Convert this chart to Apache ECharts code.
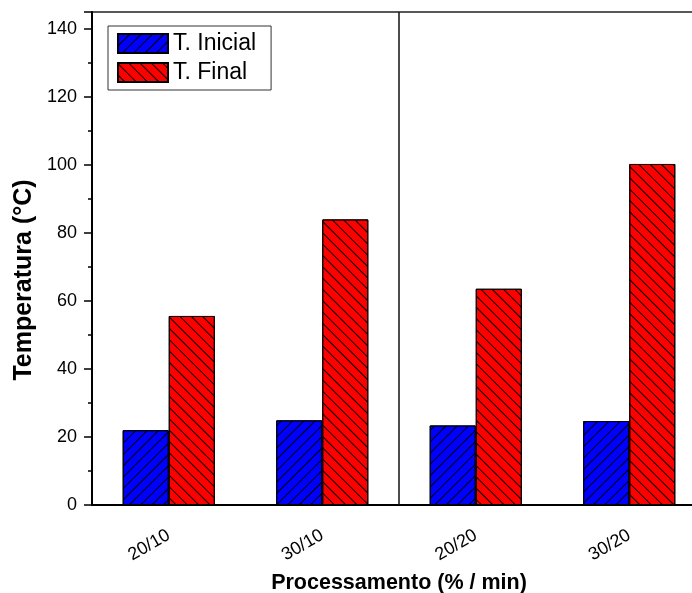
<!DOCTYPE html>
<html>
<head>
<meta charset="utf-8">
<script src="https://cdn.jsdelivr.net/npm/echarts@6/dist/echarts.min.js"></script>
<style>
  html, body { margin: 0; padding: 0; background: #fff; overflow: hidden; }
  /* the plot frame runs past the right edge of the window */
  #chart { width: 706px; height: 593px; }
</style>
</head>
<body>
<div id="chart"></div>
<script>
// Processing conditions (% / min) and measured temperatures (°C)
const categories = ['20/10', '30/10', '20/20', '30/20'];
const tInicial = [22.0, 24.9, 23.4, 24.7];
const tFinal = [55.6, 84.0, 63.6, 100.3];
const seriesNames = ['T. Inicial', 'T. Final'];
const yMin = 0;
const yMax = 145;
const yStep = 20;
const dividerAt = 2; // band boundary separating the "/10" and "/20" groups

const FONT = '"Liberation Sans", Arial, Helvetica, sans-serif';

function hatch(rotation) {
  return {
    symbol: 'rect',
    symbolSize: 1,
    color: '#000',
    dashArrayX: [1, 0],
    dashArrayY: [1, 6.5],
    rotation: rotation
  };
}

const chart = echarts.init(document.getElementById('chart'), null, { renderer: 'canvas' });

chart.setOption({
  animation: false,
  backgroundColor: '#fff',
  textStyle: { fontFamily: FONT },
  grid: {
    left: 92, right: 0, top: 12, bottom: 88,
    outerBoundsMode: 'none',
    containLabel: false,
    show: true, borderColor: '#222', borderWidth: 1.5
  },
  legend: {
    left: 108, top: 26,
    orient: 'vertical',
    data: seriesNames,
    icon: 'rect',
    itemWidth: 50, itemHeight: 19, itemGap: 6,
    padding: [6, 15, 6, 9],
    borderColor: '#333', borderWidth: 1,
    textStyle: { fontFamily: FONT, fontSize: 23, color: '#000' }
  },
  xAxis: [
    {
      type: 'category',
      data: categories,
      position: 'bottom',
      axisLine: { lineStyle: { color: '#000', width: 2 } },
      axisTick: { alignWithLabel: true, length: 8, lineStyle: { color: '#000', width: 1.5 } },
      axisLabel: {
        rotate: 30, margin: 29, fontSize: 18, color: '#000', fontFamily: FONT
      },
      name: 'Processamento (% / min)',
      nameLocation: 'middle',
      nameGap: 67,
      nameTextStyle: { fontSize: 21.5, fontWeight: 'bold', color: '#000', fontFamily: FONT }
    },
    {
      // short ticks on the band boundaries
      type: 'category',
      data: categories,
      position: 'bottom',
      axisLine: { show: false },
      axisTick: { length: 4, lineStyle: { color: '#000', width: 1.5 } },
      axisLabel: { show: false }
    },
    {
      // band-index scale used to place the group divider
      type: 'value',
      min: 0, max: categories.length,
      show: false
    }
  ],
  yAxis: {
    type: 'value',
    min: yMin, max: yMax, interval: yStep,
    axisLine: { show: true, lineStyle: { color: '#000', width: 2 } },
    axisTick: { show: true, length: 8, lineStyle: { color: '#000', width: 1.5 } },
    minorTick: { show: true, splitNumber: 2, length: 4, lineStyle: { color: '#000', width: 1.5 } },
    splitLine: { show: false },
    axisLabel: { margin: 15, fontSize: 18, color: '#000', fontFamily: FONT, showMaxLabel: false }
  },
  graphic: [
    {
      type: 'text',
      x: 24, y: 280,
      rotation: Math.PI / 2,
      style: {
        text: 'Temperatura (°C)',
        font: 'bold 25px ' + FONT,
        fill: '#000',
        textAlign: 'center',
        textVerticalAlign: 'middle'
      }
    }
  ],
  series: [
    {
      name: seriesNames[0],
      type: 'bar',
      data: tInicial,
      barGap: '0%',
      barCategoryGap: '40%',
      itemStyle: {
        color: '#0000ff',
        borderColor: '#000',
        borderWidth: 1,
        decal: hatch(-Math.PI / 4)
      }
    },
    {
      name: seriesNames[1],
      type: 'bar',
      data: tFinal,
      barGap: '0%',
      barCategoryGap: '40%',
      itemStyle: {
        color: '#ff0000',
        borderColor: '#000',
        borderWidth: 1,
        decal: hatch(Math.PI / 4)
      }
    },
    {
      name: 'divider',
      type: 'line',
      xAxisIndex: 2,
      data: [],
      silent: true,
      markLine: {
        silent: true,
        symbol: ['none', 'none'],
        label: { show: false },
        lineStyle: { color: '#111', width: 1.5, type: 'solid' },
        data: [{ xAxis: dividerAt }]
      }
    }
  ]
});
</script>
</body>
</html>
